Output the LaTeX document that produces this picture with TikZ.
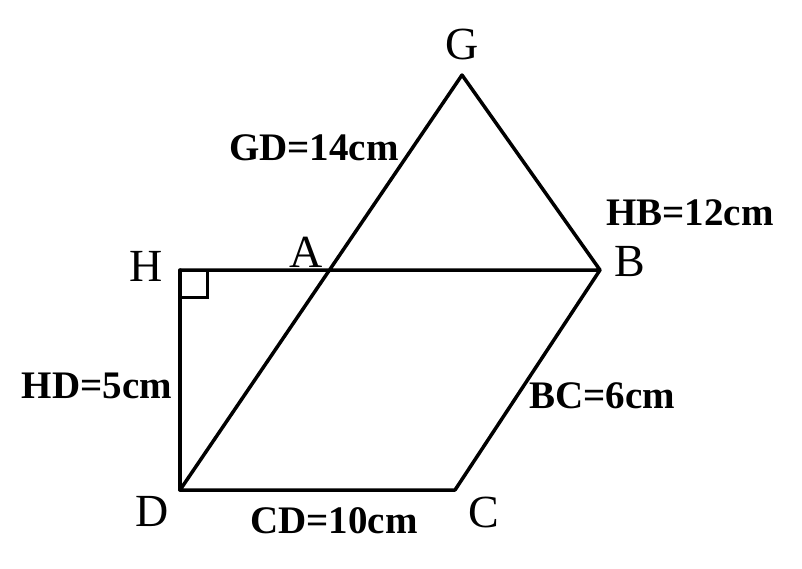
\documentclass[tikz,border=0pt]{standalone}
\usepackage{fontspec}
\setmainfont{Liberation Serif}
\begin{document}
\begin{tikzpicture}[x=1pt,y=-1pt,
  edge/.style={line width=3.5pt,line cap=round,line join=round},
  pt/.style={font=\fontsize{46}{46}\selectfont,inner sep=0pt},
  meas/.style={font=\bfseries\fontsize{39}{39}\selectfont,inner sep=0pt}]
\useasboundingbox (0,0) rectangle (802,568);
\coordinate (H) at (180,270);
\coordinate (B) at (600,270);
\coordinate (D) at (180,490);
\coordinate (C) at (455,490);
\coordinate (G) at (462,75);
\coordinate (A) at (329.5,270);
\draw[edge] (H) -- (B) -- (G) -- (D) -- (C) -- (B);
\draw[edge] (H) -- (D);
\draw[line width=3pt] (180,297) -- (207,297) -- (207,270);
\node[pt] (lG) at (462,44) {G};
\node[pt] (lH) at (146,266) {H};
\node[pt] (lA) at (306,252) {A};
\node[pt] (lB) at (630,262) {B};
\node[pt] (lD) at (152,511) {D};
\node[pt] (lC) at (484,512) {C};
\node[meas] (gd) at (314,148) {GD=14cm};
\node[meas] (hb) at (690,213) {HB=12cm};
\node[meas] (hd) at (97,386) {HD=5cm};
\node[meas] (bc) at (602,396) {BC=6cm};
\node[meas] (cd) at (334,521) {CD=10cm};
\end{tikzpicture}
\end{document}
